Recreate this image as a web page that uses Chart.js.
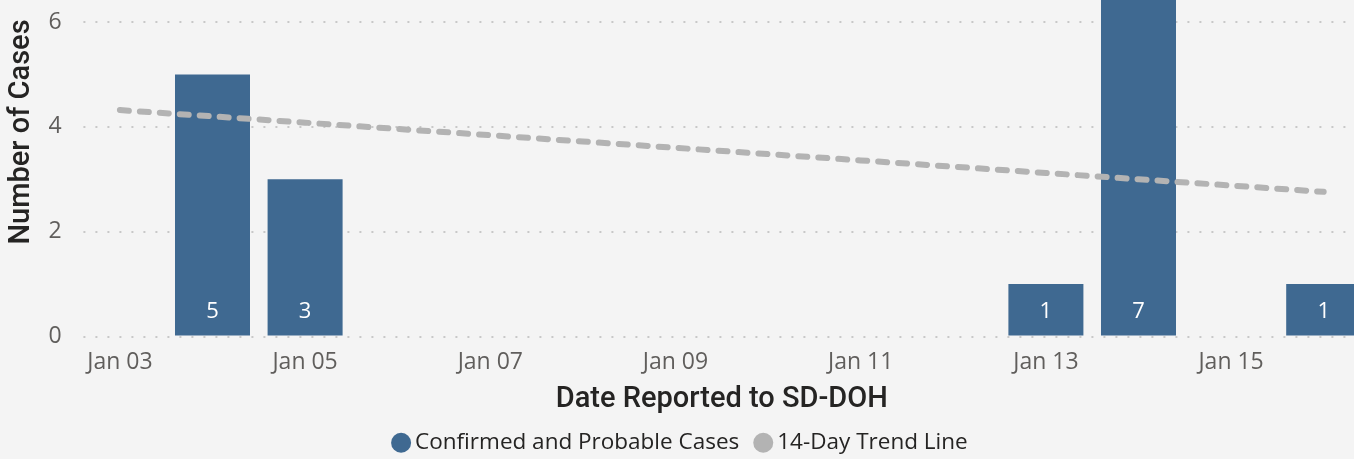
<!DOCTYPE html>
<html><head><meta charset="utf-8">
<script src="https://cdn.jsdelivr.net/npm/chart.js@4.4.1/dist/chart.umd.min.js"></script>
<style>
html,body{margin:0;padding:0;background:#F4F4F4;overflow:hidden;width:1354px;height:459px;}
#wrap{position:absolute;left:0;top:0;width:1370px;height:459px;}
</style></head><body>
<div id="wrap"><canvas id="c"></canvas></div>
<script>
const categories = ['Jan 03','Jan 04','Jan 05','Jan 06','Jan 07','Jan 08','Jan 09','Jan 10','Jan 11','Jan 12','Jan 13','Jan 14','Jan 15','Jan 16'];
const cases = [0,5,3,0,0,0,0,0,0,0,1,7,0,1];
const trend = [4.32,4.20,4.08,3.96,3.84,3.72,3.60,3.48,3.36,3.24,3.12,3.00,2.88,2.76];
const seriesNames = ['Confirmed and Probable Cases','14-Day Trend Line'];
const seriesColors = ['#3F6991','#B3B3B3'];
const yTitle = 'Number of Cases';
const xTitle = 'Date Reported to SD-DOH';

Chart.defaults.font.family = "'Open Sans', sans-serif";

const barLabels = {
  id:'barLabels',
  afterDatasetsDraw(chart){
    const meta = chart.getDatasetMeta(1);
    const ctx = chart.ctx;
    ctx.save();
    ctx.font = "22px 'Open Sans'";
    ctx.fillStyle = '#FFFFFF';
    ctx.textAlign = 'center';
    ctx.textBaseline = 'middle';
    meta.data.forEach((bar,i)=>{
      const v = cases[i];
      if(!v) return;
      ctx.fillText(String(v), bar.x, bar.base - 24);
    });
    ctx.restore();
  }
};
const yTitlePlugin = {
  id:'yTitlePlugin',
  afterDraw(chart){
    const ctx = chart.ctx;
    ctx.save();
    ctx.translate(22, 132);
    ctx.rotate(-Math.PI/2);
    ctx.font = "500 29px Roboto";
    ctx.fillStyle = '#252423';
    ctx.textAlign = 'center';
    ctx.textBaseline = 'middle';
    ctx.fillText(yTitle, 0, 0);
    ctx.restore();
  }
};
const legendShift = {
  id:'legendShift',
  afterLayout(chart){
    const lg = chart.legend;
    if(!lg) return;
    const dx = 683 - (lg.left + lg.right)/2;
    lg.left += dx; lg.right += dx;
    lg.top += 5; lg.bottom += 5;
  }
};

new Chart(document.getElementById('c'), {
  data:{
    labels: categories,
    datasets:[
      {type:'line', label:seriesNames[1], data:trend, borderColor:seriesColors[1], backgroundColor:seriesColors[1],
       borderWidth:6, borderDash:[9,11], borderCapStyle:'round', pointRadius:0, tension:0, order:0},
      {type:'bar', label:seriesNames[0], data:cases, backgroundColor:seriesColors[0],
       barPercentage:0.81, categoryPercentage:1, order:1}
    ]
  },
  options:{
    responsive:true, maintainAspectRatio:false, animation:false,
    layout:{padding:0},
    plugins:{
      tooltip:{enabled:false},
      legend:{
        position:'bottom',
        labels:{
          usePointStyle:true, boxWidth:5.5, boxHeight:14.14, padding:21.25,
          color:'#252423', font:{size:22.5},
          generateLabels(chart){
            return [0,1].map(i=>({text:seriesNames[i], fillStyle:seriesColors[i], strokeStyle:seriesColors[i],
              lineWidth:0, pointStyle:'circle', hidden:false, datasetIndex:1-i, fontColor:'#252423'}));
          }
        }
      }
    },
    scales:{
      x:{
        offset:true,
        grid:{display:false}, border:{display:false},
        ticks:{autoSkip:false, maxRotation:0, minRotation:0, padding:4, color:'#605E5C', font:{size:23},
          callback:(v,i)=> i%2===0 ? categories[i] : ''},
        title:{display:true, text:xTitle, color:'#252423',
          font:{family:'Roboto', size:29, weight:'500', lineHeight:0.38}, padding:{top:0,bottom:0}},
        afterFit(s){ s.height = 68.75; s.paddingLeft = 0; s.paddingRight = 0; }
      },
      y:{
        min:0, max:6.42,
        ticks:{stepSize:2, includeBounds:false, padding:12, color:'#605E5C', font:{size:23}},
        grid:{color:'#C8C8C8', lineWidth:2, drawTicks:false},
        border:{display:false, dash:[2,10], dashOffset:2.6},
        title:{display:false},
        afterFit(s){ s.width = 73.6; s.paddingTop = 0; s.paddingBottom = 0; }
      }
    }
  },
  plugins:[barLabels, yTitlePlugin, legendShift]
});
</script>
</body></html>
